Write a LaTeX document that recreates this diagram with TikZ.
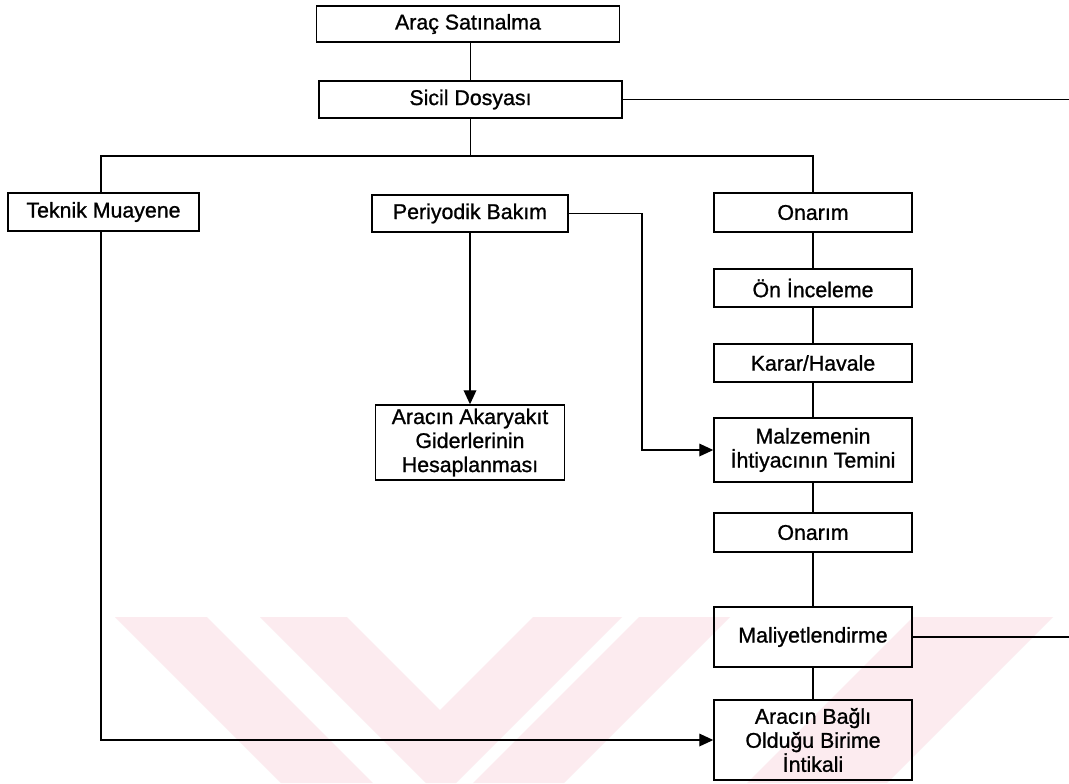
\documentclass[tikz,border=0pt]{standalone}
\usepackage{fontspec}
\setmainfont{Liberation Sans}
\newfontfamily\boxfont{Liberation Sans}[FakeBold=1]
\usetikzlibrary{arrows.meta}

\definecolor{wmpink}{RGB}{252,235,239}

\tikzset{
  box/.style={draw, line width=1.1pt, align=center, inner sep=0pt,
              minimum width=148.5pt, minimum height=29pt,
              font=\boxfont\fontsize{16}{18}\selectfont},
  wide/.style={minimum width=227.5pt, minimum height=27.5pt},
  conn/.style={line width=1pt},
  arr/.style={conn, -{Triangle[length=10.5pt,width=9.5pt]}},
  band/.style={fill=wmpink, draw=none}
}

\begin{document}
\begin{tikzpicture}[x=0.75pt, y=-0.75pt]
  \path[use as bounding box, fill=white] (0,0) rectangle (1069,783);

  % faint emblem in the lower part of the page
  \begin{scope}
    \clip (0,617) rectangle (1069,783);
    \fill[band] (115,617) -- (207,617) -- (373,783) -- (281,783) -- cycle;
    \fill[band] (260,617) -- (347,617) -- (440,710) -- (533,617) -- (622,617)
                -- (456,783) -- (426,783) -- cycle;
    \fill[band] (639,617) -- (730,617) -- (564,783) -- (473,783) -- cycle;
    \fill[band] (913,617) -- (1053,617) -- (887,783) -- (747,783) -- cycle;
  \end{scope}

  % top of the chart
  \node[box, wide, minimum height=27pt] (sat) at (468,24) {Araç Satınalma};
  \node[box, wide] (sic) at (470.5,99.5) {Sicil Dosyası};

  % three branches
  \node[box, minimum width=143.25pt, minimum height=28.5pt] (tek) at (103.5,212) {Teknik Muayene};
  \node[box, minimum width=147pt, minimum height=27.75pt] (per) at (470,213.5) {Periyodik Bakım};
  \node[box] (on1) at (813,212.5) {Onarım};

  % repair column
  \node[box, minimum height=28.5pt] (oni) at (813,288) {Ön İnceleme};
  \node[box, minimum height=28.5pt] (kar) at (813,363) {Karar/Havale};
  \node[box, minimum height=48pt] (mal) at (813,450) {Malzemenin\\İhtiyacının Temini};
  \node[box] (on2) at (813,532.5) {Onarım};
  \node[box, minimum height=45pt] (mly) at (813,637) {Maliyetlendirme};
  \node[box, minimum height=60pt] (ara) at (813,740) {Aracın Bağlı\\Olduğu Birime\\İntikali};

  % fuel costs
  \node[box, minimum width=141.75pt, minimum height=56.25pt] (aka) at (470,442.5)
        {Aracın Akaryakıt\\Giderlerinin\\Hesaplanması};

  % helper points
  \coordinate (busL) at (101,156);
  \coordinate (busR) at (813,156);
  \coordinate (tx) at (642,300);
  \coordinate (edgeA) at (1069,99.5);
  \coordinate (edgeB) at (1069,637);

  % connectors
  \draw[conn] (sat.south -| sic.south) -- (sic.north);
  \draw[conn] (sic.east) -- (edgeA);
  \draw[conn] (sic.south) -- (sic.south |- busL);
  \draw[conn] (tek.north -| busL) -- (busL) -- (busR) -- (on1.north);
  \draw[arr] (tek.south -| busL) |- (ara.west);
  \draw[arr] (per.south) -- (per.south |- aka.north);
  \draw[arr] (per.east) -- (per.east -| tx) -- (mal.west -| tx) -- (mal.west);
  \draw[conn] (on1.south) -- (oni.north);
  \draw[conn] (oni.south) -- (kar.north);
  \draw[conn] (kar.south) -- (mal.north);
  \draw[conn] (mal.south) -- (on2.north);
  \draw[conn] (on2.south) -- (mly.north);
  \draw[conn] (mly.south) -- (ara.north);
  \draw[conn] (mly.east) -- (edgeB);
\end{tikzpicture}
\end{document}
